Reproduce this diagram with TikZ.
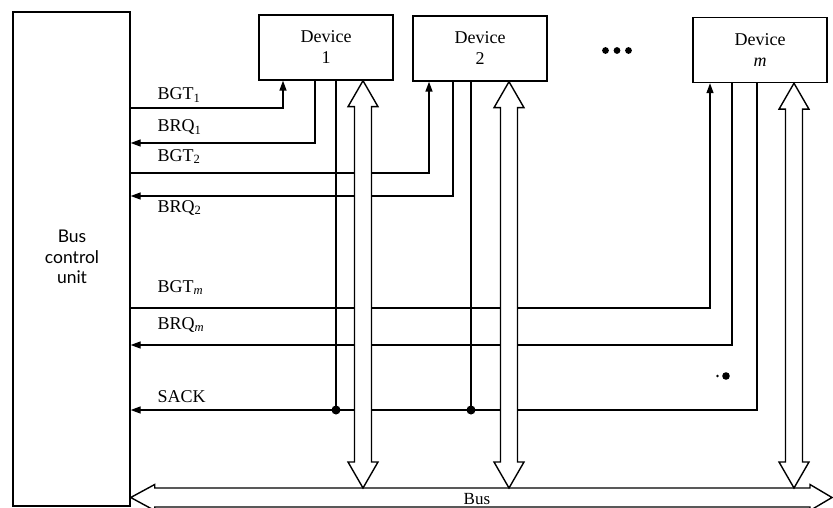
\documentclass[tikz,border=0pt]{standalone}
\usepackage{fontspec}
\setmainfont{Liberation Serif}
\newfontfamily\bcufont{Lato}
\usetikzlibrary{arrows.meta,calc}
\newcommand\hollowv[2]{%
  \draw[hollow] (#1) -- ($(#1)+(15,26)$) -- ($(#1)+(8.5,26)$) -- ($(#2)+(8.5,-26)$) -- ($(#2)+(15,-26)$) -- (#2) -- ($(#2)+(-15,-26)$) -- ($(#2)+(-8.5,-26)$) -- ($(#1)+(-8.5,26)$) -- ($(#1)+(-15,26)$) -- cycle;}
\begin{document}
\begin{tikzpicture}[x=1pt,y=-1pt,line width=1.4pt,
  every node/.style={font=\fontsize{18}{21}\selectfont},
  devbox/.style={draw, minimum width=134pt, minimum height=65pt, align=center, inner sep=0pt},
  sig/.style={-{Triangle[length=10pt,width=7pt]}},
  lbl/.style={anchor=base west, inner sep=0pt},
  junc/.style={circle, fill, inner sep=0pt, minimum size=9pt},
  hollow/.style={draw, fill=white, line join=miter}]
\useasboundingbox (0,0) rectangle (833,508);
\fill[white] (0,0) rectangle (833,508);

% main blocks
\node[draw, minimum width=117pt, minimum height=494pt, inner sep=0pt] (bcu) at (71.5,259) {};
\node[align=center, font=\bcufont\fontsize{17.5}{20.5}\selectfont] (bcut) at (72,257) {Bus\\control\\unit};
\node[devbox] (dev1) at (326,47.5) {Device\\1};
\node[devbox] (dev2) at (480,48.5) {Device\\2};
\node[devbox] (devm) at (760,50) {Device\\\textit{m}};

% ellipsis dots
\fill (605.5,50.5) circle (3.4) (617,50.5) circle (3.4) (628.5,50.5) circle (3.4);

% positions
\coordinate (g1) at (283,108);
\coordinate (r1) at (315,143);
\coordinate (g2) at (429,173);
\coordinate (r2) at (453,196);
\coordinate (gm) at (710,308);
\coordinate (rm) at (732,345);
\coordinate (sm) at (757,410);
\coordinate (s1) at (336,410);
\coordinate (s2) at (471,410);
\coordinate (a1) at (363,0);
\coordinate (a2) at (509,0);
\coordinate (am) at (794,0);
\coordinate (bustop) at (0,488);
\coordinate (busy) at (0,497.5);
\coordinate (busR) at (832,497.5);

% grant lines
\draw[sig] (bcu.east |- g1) -- (g1) -- (g1 |- dev1.south);
\draw[sig] (bcu.east |- g2) -- (g2) -- (g2 |- dev2.south);
\draw[sig] (bcu.east |- gm) -- (gm) -- (gm |- devm.south);
% request lines
\draw[sig] (r1 |- dev1.south) -- (r1) -- (bcu.east |- r1);
\draw[sig] (r2 |- dev2.south) -- (r2) -- (bcu.east |- r2);
\draw[sig] (rm |- devm.south) -- (rm) -- (bcu.east |- rm);
% SACK
\draw[sig] (sm |- devm.south) -- (sm) -- (bcu.east |- sm);
\draw (s1 |- dev1.south) -- (s1);
\draw (s2 |- dev2.south) -- (s2);
\node[junc] (j1) at (s1) {};
\node[junc] (j2) at (s2) {};

% stray mark
\fill (726,376) circle (3.8);
\fill (717.5,376) circle (1.4);

% labels
\node[lbl] (lg1) at (157,100) {BGT\textsubscript{1}};
\node[lbl] (lr1) at (157,132) {BRQ\textsubscript{1}};
\node[lbl] (lg2) at (157,161) {BGT\textsubscript{2}};
\node[lbl] (lr2) at (157,212) {BRQ\textsubscript{2}};
\node[lbl] (lgm) at (157,292) {BGT\textsubscript{\textit{m}}};
\node[lbl] (lrm) at (157,329) {BRQ\textsubscript{\textit{m}}};
\node[lbl] (ls) at (157,402) {SACK};

% bus (hollow double arrow)
\coordinate (busL) at (bcu.east |- busy);
\draw[hollow] (busL) -- ($(busL)+(24,-13)$) -- ($(busL)+(24,-9.5)$) -- ($(busR)+(-22,-9.5)$) -- ($(busR)+(-22,-13)$) -- (busR) -- ($(busR)+(-22,13)$) -- ($(busR)+(-22,9.5)$) -- ($(busL)+(24,9.5)$) -- ($(busL)+(24,13)$) -- cycle;
\node[lbl, font=\fontsize{17}{20}\selectfont] (buslbl) at (463,504.5) {Bus};

% device-to-bus hollow arrows
\hollowv{a1 |- dev1.south}{a1 |- bustop}
\hollowv{a2 |- dev2.south}{a2 |- bustop}
\hollowv{am |- devm.south}{am |- bustop}
\end{tikzpicture}
\end{document}
